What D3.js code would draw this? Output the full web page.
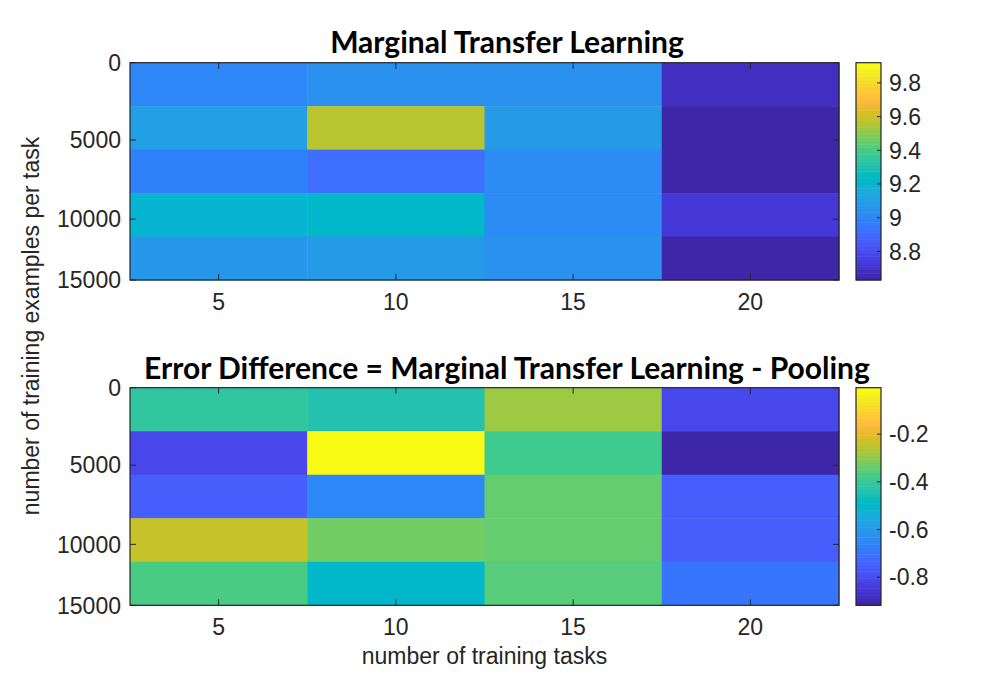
<!DOCTYPE html>
<html>
<head>
<meta charset="utf-8">
<script src="https://cdn.jsdelivr.net/npm/d3@7"></script>
<style>
  body { margin: 0; background: #fff; }
  text { fill: #262626; font-family: "Liberation Sans", Arial, sans-serif; }
  .title { font-family: Lato, "Open Sans", sans-serif; font-weight: bold; fill: #000; }
</style>
</head>
<body>
<div id="chart"></div>
<script>
// x categories: number of training tasks
var tasks = [5, 10, 15, 20];
// y tick labels and where they sit (in row units, 5 rows)
var yTickLabels = [0, 5000, 10000, 15000];
var yTickRowPos = [0, 1.78, 3.6, 5];

// top panel: marginal transfer learning error (rows x tasks)
var mtlError = [
  [9.00, 9.04, 9.035, 8.686],
  [9.112, 9.574, 9.081, 8.64],
  [8.979, 8.928, 9.02, 8.65],
  [9.204, 9.22, 9.02, 8.72],
  [9.06, 9.075, 9.035, 8.64]
];
var mtlRange = [8.63, 9.92];
var mtlTicks = [8.8, 9, 9.2, 9.4, 9.6, 9.8];

// bottom panel: error difference (mtl - pooling)
var errDiff = [
  [-0.41, -0.44, -0.28, -0.817],
  [-0.815, -0.005, -0.382, -0.915],
  [-0.75, -0.657, -0.338, -0.75],
  [-0.237, -0.324, -0.338, -0.759],
  [-0.367, -0.498, -0.36, -0.70]
];
var diffRange = [-0.918, -0.005];
var diffTicks = [-0.8, -0.6, -0.4, -0.2];

// matlab parula, 64 entries
var parula = [
[0.2422,0.1504,0.6603],[0.2504,0.1650,0.7076],[0.2578,0.1818,0.7511],[0.2647,0.1978,0.7952],
[0.2706,0.2147,0.8364],[0.2751,0.2342,0.8710],[0.2783,0.2559,0.8991],[0.2803,0.2782,0.9221],
[0.2813,0.3006,0.9414],[0.2810,0.3228,0.9579],[0.2795,0.3447,0.9717],[0.2760,0.3667,0.9829],
[0.2699,0.3892,0.9906],[0.2602,0.4123,0.9952],[0.2440,0.4358,0.9988],[0.2206,0.4603,0.9973],
[0.1963,0.4847,0.9892],[0.1834,0.5074,0.9798],[0.1786,0.5289,0.9682],[0.1764,0.5499,0.9520],
[0.1687,0.5703,0.9359],[0.1540,0.5902,0.9218],[0.1460,0.6091,0.9079],[0.1380,0.6276,0.8973],
[0.1248,0.6459,0.8883],[0.1113,0.6635,0.8763],[0.0952,0.6798,0.8598],[0.0689,0.6948,0.8394],
[0.0297,0.7082,0.8163],[0.0036,0.7203,0.7917],[0.0067,0.7312,0.7660],[0.0433,0.7411,0.7394],
[0.0964,0.7500,0.7120],[0.1408,0.7584,0.6842],[0.1717,0.7670,0.6554],[0.1938,0.7758,0.6251],
[0.2161,0.7843,0.5923],[0.2470,0.7918,0.5567],[0.2906,0.7973,0.5188],[0.3406,0.8008,0.4789],
[0.3909,0.8029,0.4354],[0.4456,0.8024,0.3909],[0.5044,0.7993,0.3480],[0.5616,0.7942,0.3045],
[0.6174,0.7876,0.2612],[0.6720,0.7793,0.2227],[0.7242,0.7698,0.1910],[0.7738,0.7598,0.1646],
[0.8203,0.7498,0.1535],[0.8634,0.7406,0.1596],[0.9035,0.7330,0.1774],[0.9393,0.7288,0.2100],
[0.9728,0.7298,0.2394],[0.9956,0.7434,0.2371],[0.9970,0.7659,0.2199],[0.9952,0.7893,0.2028],
[0.9892,0.8136,0.1885],[0.9786,0.8386,0.1766],[0.9676,0.8639,0.1643],[0.9610,0.8890,0.1537],
[0.9597,0.9135,0.1423],[0.9628,0.9373,0.1265],[0.9691,0.9606,0.1064],[0.9769,0.9839,0.0805]
].map(function (c) { return d3.rgb(c[0] * 255, c[1] * 255, c[2] * 255).formatHex(); });

var width = 1002, height = 686;
var plotLeft = 130, plotRight = 839;
var cbLeft = 856, cbWidth = 25;
var tickLen = 6;
var fs = '23px';

var svg = d3.select('#chart').append('svg')
  .attr('width', width).attr('height', height);

var x = d3.scaleLinear().domain([2.5, 22.5]).range([plotLeft, plotRight]);

function drawPanel(top, bottom, values, range, cbTicks, title, titleY) {
  var y = d3.scaleLinear().domain([0, 5]).range([top, bottom]);
  var color = d3.scaleQuantize().domain(range).range(parula);
  var g = svg.append('g');

  // cells
  values.forEach(function (row, i) {
    g.selectAll(null)
      .data(row)
      .enter()
      .append('rect')
      .attr('x', function (d, j) { return x(tasks[j] - 2.5); })
      .attr('width', function (d, j) { return x(tasks[j] + 2.5) - x(tasks[j] - 2.5) + 0.5; })
      .attr('y', y(i))
      .attr('height', y(i + 1) - y(i) + 0.5)
      .attr('fill', function (d) { return color(d); });
  });

  // x ticks, inward top and bottom
  var xt = g.selectAll('.xt').data(tasks).enter();
  xt.append('line')
    .attr('x1', function (d) { return x(d); }).attr('x2', function (d) { return x(d); })
    .attr('y1', bottom).attr('y2', bottom - tickLen)
    .attr('stroke', '#262626');
  xt.append('line')
    .attr('x1', function (d) { return x(d); }).attr('x2', function (d) { return x(d); })
    .attr('y1', top).attr('y2', top + tickLen)
    .attr('stroke', '#262626');
  xt.append('text')
    .attr('x', function (d) { return x(d); })
    .attr('y', bottom + 30)
    .attr('text-anchor', 'middle')
    .style('font-size', fs)
    .text(function (d) { return d; });

  // y ticks, inward left and right
  var yt = g.selectAll('.yt').data(yTickRowPos).enter();
  yt.append('line')
    .attr('x1', plotLeft).attr('x2', plotLeft + tickLen)
    .attr('y1', function (d) { return y(d); }).attr('y2', function (d) { return y(d); })
    .attr('stroke', '#262626');
  yt.append('line')
    .attr('x1', plotRight).attr('x2', plotRight - tickLen)
    .attr('y1', function (d) { return y(d); }).attr('y2', function (d) { return y(d); })
    .attr('stroke', '#262626');
  yt.append('text')
    .attr('x', plotLeft - 9)
    .attr('y', function (d) { return y(d); })
    .attr('dy', '0.36em')
    .attr('text-anchor', 'end')
    .style('font-size', fs)
    .text(function (d, i) { return yTickLabels[i]; });

  g.append('rect')
    .attr('x', plotLeft).attr('y', top)
    .attr('width', plotRight - plotLeft).attr('height', bottom - top)
    .attr('fill', 'none').attr('stroke', '#262626').attr('stroke-width', 1.2);

  // colorbar
  var cy = d3.scaleLinear().domain(range).range([bottom, top]);
  var step = (range[1] - range[0]) / parula.length;
  g.selectAll('.cb')
    .data(parula)
    .enter()
    .append('rect')
    .attr('x', cbLeft)
    .attr('width', cbWidth)
    .attr('y', function (d, i) { return cy(range[0] + (i + 1) * step); })
    .attr('height', function (d, i) { return cy(range[0] + i * step) - cy(range[0] + (i + 1) * step) + 0.5; })
    .attr('fill', function (d) { return d; });
  g.append('rect')
    .attr('x', cbLeft).attr('y', top)
    .attr('width', cbWidth).attr('height', bottom - top)
    .attr('fill', 'none').attr('stroke', '#262626').attr('stroke-width', 1.2);
  var ct = g.selectAll('.ct').data(cbTicks).enter();
  ct.append('line')
    .attr('x1', cbLeft + cbWidth).attr('x2', cbLeft + cbWidth - 4)
    .attr('y1', function (d) { return cy(d); }).attr('y2', function (d) { return cy(d); })
    .attr('stroke', '#262626');
  ct.append('text')
    .attr('x', cbLeft + cbWidth + 8)
    .attr('y', function (d) { return cy(d); })
    .attr('dy', '0.36em')
    .style('font-size', fs)
    .text(function (d) { return String(d); });

  svg.append('text')
    .attr('class', 'title')
    .attr('x', 507)
    .attr('y', titleY)
    .attr('text-anchor', 'middle')
    .style('font-size', '30px')
    .text(title);
}

drawPanel(62.7, 280, mtlError, mtlRange, mtlTicks, 'Marginal Transfer Learning', 53);
drawPanel(387.7, 605.3, errDiff, diffRange, diffTicks, 'Error Difference = Marginal Transfer Learning - Pooling', 379);

svg.append('text')
  .attr('x', (plotLeft + plotRight) / 2)
  .attr('y', 664)
  .attr('text-anchor', 'middle')
  .style('font-size', fs)
  .text('number of training tasks');

svg.append('text')
  .attr('transform', 'translate(39,326) rotate(-90)')
  .attr('text-anchor', 'middle')
  .style('font-size', fs)
  .text('number of training examples per task');
</script>
</body>
</html>
